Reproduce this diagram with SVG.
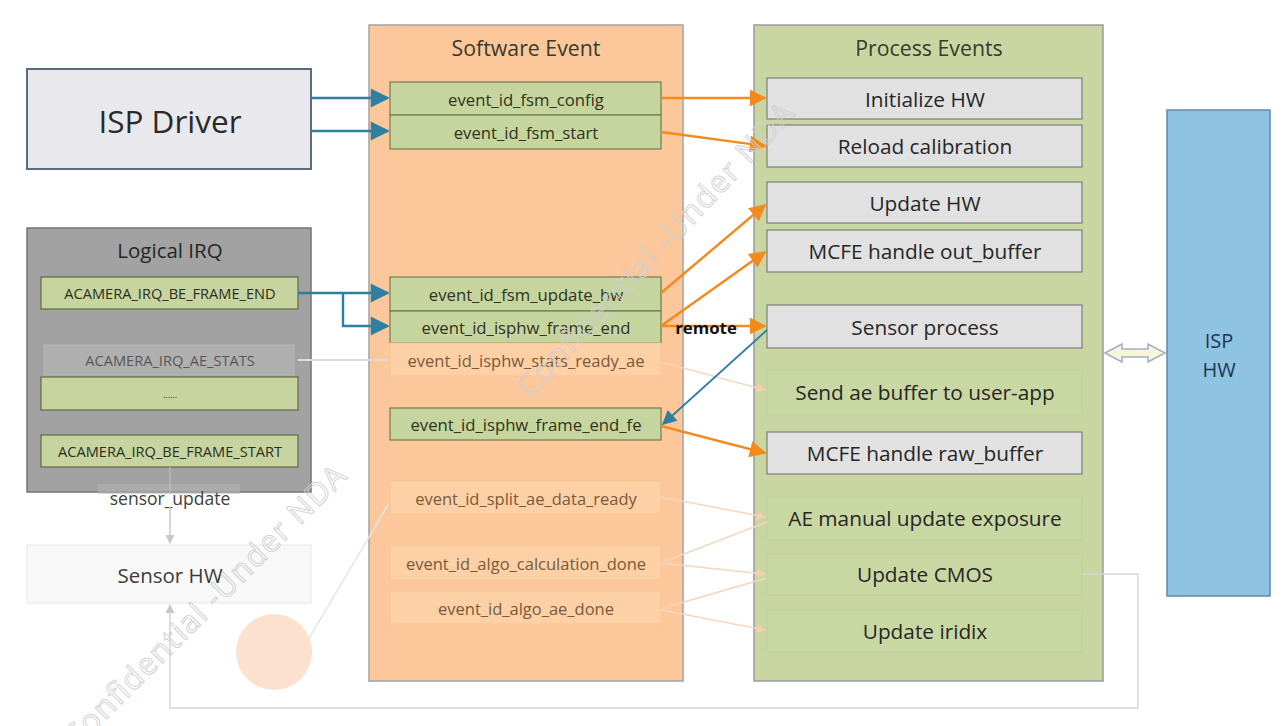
<svg xmlns="http://www.w3.org/2000/svg" width="1286" height="726" viewBox="0 0 1286 726">
<defs>
<style>
text{font-family:"Open Sans","Noto Sans","Liberation Sans",sans-serif;text-anchor:middle;dominant-baseline:central}
.panel-title{font-size:21.3px;fill:#3a3a2a}
.sw{fill:#c6d59e;stroke:#6f7e4e;stroke-width:1.2}
.swt{font-size:16.7px;fill:#2f3320}
.swf{fill:#fdd0a6;stroke:#f6c495;stroke-width:1}
.swft{font-size:16.5px;fill:#7a5a3c}
.pe{fill:#e1e1e1;stroke:#7e7e7e;stroke-width:1.2}
.pet{font-size:20.8px;fill:#262626}
.pef{fill:#c9d7a3;stroke:#c0ce97;stroke-width:1}
.irq{fill:#c7d49f;stroke:#5f6a45;stroke-width:1.2}
.irqt{font-size:14.6px;fill:#2a2f1e}
.blue{stroke:#2f7fa3;stroke-width:2.4;fill:none}
.orange{stroke:#f28a1e;stroke-width:2.4;fill:none}
.faintline{stroke:#f6d6bd;stroke-width:1.5;fill:none}
.wm{font-size:31px;fill:none;stroke:#cfcfcf;stroke-width:0.9;text-anchor:start;dominant-baseline:auto}
</style>
<marker id="abl" viewBox="0 0 10 10" refX="9" refY="5" markerWidth="9" markerHeight="8" orient="auto"><path d="M0,0 L10,5 L0,10 z" fill="#2f7fa3"/></marker>
<marker id="ao" viewBox="0 0 10 10" refX="9" refY="5" markerWidth="8" markerHeight="7" orient="auto"><path d="M0,0 L10,5 L0,10 z" fill="#f28a1e"/></marker>
<marker id="ag" viewBox="0 0 10 10" refX="9" refY="5" markerWidth="6" markerHeight="6" orient="auto"><path d="M0,0 L10,5 L0,10 z" fill="#c8c8c8"/></marker>
<marker id="afo" viewBox="0 0 10 10" refX="9" refY="5" markerWidth="6" markerHeight="6" orient="auto"><path d="M0,0 L10,5 L0,10 z" fill="#f6cfae"/></marker>
</defs>
<rect width="1286" height="726" fill="#ffffff"/>

<!-- Panels -->
<g id="software-event">
<rect x="369" y="25" width="314" height="656" fill="#fcc89b" stroke="#a3a3a3" stroke-width="1.5"/>
<text class="panel-title" x="526" y="47">Software Event</text>
</g>
<g id="process-events">
<rect x="754" y="25" width="349" height="656" fill="#c9d6a1" stroke="#9c9c9c" stroke-width="1.5"/>
<text class="panel-title" x="929" y="47">Process Events</text>
</g>

<g id="isp-driver">
<rect x="27" y="69" width="284" height="100" fill="#e9e9ed" stroke="#5b6c82" stroke-width="2"/>
<text x="170" y="120" style="font-size:31.5px;fill:#2a2a2a">ISP Driver</text>
</g>

<g id="logical-irq">
<rect x="27" y="228" width="284" height="264" fill="#a2a2a2" stroke="#747474" stroke-width="1.5"/>
<text class="panel-title" x="170" y="250" style="font-size:20.5px;fill:#262626">Logical IRQ</text>
</g>
<g id="irq-be-frame-end">
<rect class="irq" x="41" y="277" width="257" height="32"/>
<text class="irqt" x="170" y="293">ACAMERA_IRQ_BE_FRAME_END</text>
</g>
<g id="irq-ae-stats" opacity="0.75">
<rect x="44" y="345" width="250" height="30" fill="#b4b4b4" stroke="#bcbcbc" stroke-width="1"/>
<text class="irqt" x="170" y="360" style="fill:#3d3d3d">ACAMERA_IRQ_AE_STATS</text>
</g>
<g id="irq-dots">
<rect class="irq" x="41" y="377" width="257" height="33"/>
<text class="irqt" x="170" y="394" style="font-size:9px">......</text>
</g>
<g id="irq-be-frame-start">
<rect class="irq" x="41" y="435" width="257" height="32"/>
<text class="irqt" x="170" y="451">ACAMERA_IRQ_BE_FRAME_START</text>
</g>
<g id="sensor-update-label">
<rect x="98" y="484" width="142" height="10" fill="#b4b4b4" opacity="0.55"/>
<text x="170" y="498" style="font-size:17.5px;fill:#404040">sensor_update</text>
</g>

<g id="sensor-hw">
<rect x="27" y="545" width="284" height="58" fill="#f8f8f8" stroke="#ebebeb" stroke-width="1.2"/>
<text x="170" y="575" style="font-size:20.5px;fill:#3c3c3c">Sensor HW</text>
</g>

<g id="faint-circle">
<circle cx="274" cy="652" r="38" fill="#fcdcc6" opacity="0.85"/>
</g>

<!-- Software events -->
<g id="ev-fsm-config">
<rect class="sw" x="390" y="82" width="271" height="33"/>
<text class="swt" x="526" y="99">event_id_fsm_config</text>
</g>
<g id="ev-fsm-start">
<rect class="sw" x="390" y="115" width="271" height="34"/>
<text class="swt" x="526" y="132">event_id_fsm_start</text>
</g>
<g id="ev-fsm-update-hw">
<rect class="sw" x="390" y="277" width="271" height="34"/>
<text class="swt" x="526" y="294">event_id_fsm_update_hw</text>
</g>
<g id="ev-isphw-frame-end">
<rect class="sw" x="390" y="311" width="271" height="32"/>
<text class="swt" x="526" y="327">event_id_isphw_frame_end</text>
</g>
<g id="ev-isphw-stats-ready-ae">
<rect class="swf" x="390" y="343" width="271" height="33"/>
<text class="swft" x="526" y="360">event_id_isphw_stats_ready_ae</text>
</g>
<g id="ev-isphw-frame-end-fe">
<rect class="sw" x="390" y="408" width="271" height="32"/>
<text class="swt" x="526" y="424">event_id_isphw_frame_end_fe</text>
</g>
<g id="ev-split-ae-data-ready">
<rect class="swf" x="390" y="481" width="271" height="33"/>
<text class="swft" x="526" y="498">event_id_split_ae_data_ready</text>
</g>
<g id="ev-algo-calculation-done">
<rect class="swf" x="390" y="546" width="271" height="34"/>
<text class="swft" x="526" y="563">event_id_algo_calculation_done</text>
</g>
<g id="ev-algo-ae-done">
<rect class="swf" x="390" y="591" width="271" height="33"/>
<text class="swft" x="526" y="608">event_id_algo_ae_done</text>
</g>

<!-- Process events -->
<g id="pe-initialize-hw">
<rect class="pe" x="767" y="78" width="315" height="41"/>
<text class="pet" x="925" y="99">Initialize HW</text>
</g>
<g id="pe-reload-calibration">
<rect class="pe" x="767" y="125" width="315" height="42"/>
<text class="pet" x="925" y="146">Reload calibration</text>
</g>
<g id="pe-update-hw">
<rect class="pe" x="767" y="182" width="315" height="41"/>
<text class="pet" x="925" y="203">Update HW</text>
</g>
<g id="pe-mcfe-out-buffer">
<rect class="pe" x="767" y="230" width="315" height="42"/>
<text class="pet" x="925" y="251">MCFE handle out_buffer</text>
</g>
<g id="pe-sensor-process">
<rect class="pe" x="767" y="305" width="315" height="43"/>
<text class="pet" x="925" y="327">Sensor process</text>
</g>
<g id="pe-send-ae-buffer">
<rect class="pef" x="767" y="370" width="315" height="44"/>
<text class="pet" x="925" y="392">Send ae buffer to user-app</text>
</g>
<g id="pe-mcfe-raw-buffer">
<rect class="pe" x="767" y="432" width="315" height="42"/>
<text class="pet" x="925" y="453">MCFE handle raw_buffer</text>
</g>
<g id="pe-ae-manual">
<rect class="pef" x="767" y="497" width="315" height="43"/>
<text class="pet" x="925" y="518">AE manual update exposure</text>
</g>
<g id="pe-update-cmos">
<rect class="pef" x="767" y="554" width="315" height="41"/>
<text class="pet" x="925" y="574">Update CMOS</text>
</g>
<g id="pe-update-iridix">
<rect class="pef" x="767" y="610" width="315" height="42"/>
<text class="pet" x="925" y="631">Update iridix</text>
</g>

<g id="isp-hw">
<rect x="1167" y="110" width="103" height="486" fill="#8ec4e2" stroke="#6189aa" stroke-width="1.5"/>
<text x="1219" y="340" style="font-size:20px;fill:#1f3553">ISP</text>
<text x="1219" y="369" style="font-size:20px;fill:#1f3553">HW</text>
</g>

<!-- Connectors -->
<g id="connectors">
<path d="M298,360 H388" stroke="#dcdcdc" stroke-width="2" fill="none"/>
<path class="faintline" d="M661,362 L765,390" marker-end="url(#afo)"/>
<path class="faintline" d="M661,497 L765,517" marker-end="url(#afo)"/>
<path class="faintline" d="M767,522 L663,562" marker-end="url(#afo)"/>
<path class="faintline" d="M661,563 L765,574" marker-end="url(#afo)"/>
<path class="faintline" d="M767,578 L663,608" marker-end="url(#afo)"/>
<path class="faintline" d="M661,610 L765,630" marker-end="url(#afo)"/>
<path d="M308,640 L388,505" stroke="#e6e6e6" stroke-width="1.5" fill="none"/>
<path d="M170,467 V492" stroke="#bdbdbd" stroke-width="1.2" fill="none"/>
<path d="M170,507 V543" stroke="#c8c8c8" stroke-width="1.5" fill="none" marker-end="url(#ag)"/>
<path d="M1082,574 H1138 V708 H170 V605" stroke="#d6d6d6" stroke-width="1.5" fill="none" marker-end="url(#ag)"/>

<path class="blue" d="M311,98 H388" marker-end="url(#abl)"/>
<path class="blue" d="M311,131 H388" marker-end="url(#abl)"/>
<path class="blue" d="M298,293 H388" marker-end="url(#abl)"/>
<path class="blue" d="M343,293 V326 H388" marker-end="url(#abl)"/>
<path class="blue" d="M767,330 L663,424" marker-end="url(#abl)" style="stroke-width:1.8"/>

<path class="orange" d="M661,98 H765" marker-end="url(#ao)"/>
<path class="orange" d="M661,132 L765,146" marker-end="url(#ao)"/>
<path class="orange" d="M661,293 L765,205" marker-end="url(#ao)"/>
<path class="orange" d="M661,326 L765,252" marker-end="url(#ao)"/>
<path class="orange" d="M661,326 H765" marker-end="url(#ao)"/>
<path class="orange" d="M661,426 L765,453" marker-end="url(#ao)"/>
<text x="706" y="327" style="font-size:16.8px;font-weight:bold;fill:#111">remote</text>

<path d="M1105,353 L1122,344 V349 H1148 V344 L1165,353 L1148,362 V357 H1122 V362 Z" fill="#f5f6d6" stroke="#a3aec4" stroke-width="1.5"/>
</g>

<g id="watermark">
<text class="wm" transform="translate(530,400) rotate(-47)" textLength="390">Confidential -Under NDA</text>
<text class="wm" transform="translate(76,750) rotate(-45)" textLength="385">Confidential -Under NDA</text>
</g>
</svg>
